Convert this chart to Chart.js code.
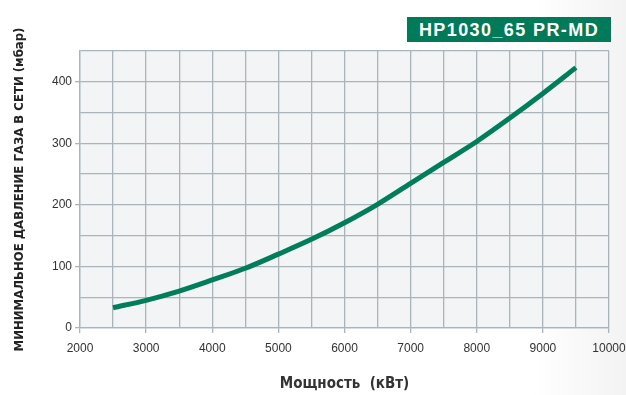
<!DOCTYPE html>
<html>
<head>
<meta charset="utf-8">
<script src="https://cdn.jsdelivr.net/npm/chart.js@4/dist/chart.umd.min.js"></script>
<style>
  html, body { margin: 0; padding: 0; width: 626px; height: 395px; overflow: hidden;
    background: linear-gradient(to right, #ffffff 0%, #ffffff 85%, #f3f3f3 100%); }
  #wrap { position: relative; width: 626px; height: 395px; }
  #badge { position: absolute; left: 407px; top: 17px; width: 204px; height: 25px;
    background: #007a58; color: #fff; font: bold 18px "Liberation Sans", Arial, sans-serif;
    letter-spacing: 1.4px; line-height: 26px; text-align: center; }
  canvas { position: absolute; left: 0; top: 0; }
</style>
</head>
<body>
<div id="wrap">
  <canvas id="c" width="626" height="395"></canvas>
  <div id="badge">HP1030_65 PR-MD</div>
</div>
<script>
const power = [2500, 3000, 3500, 4000, 4500, 5000, 5500, 6000, 6500, 7000, 7500, 8000, 8500, 9000, 9500];
const pressure = [33, 45, 60, 78, 97, 120, 144, 171, 201, 235, 269, 303, 341, 381, 423];
const xTitle = 'Мощность  (кВт)';
const yTitle = 'МИНИМАЛЬНОЕ ДАВЛЕНИЕ ГАЗА В СЕТИ (мбар)';
const xRange = [2000, 10000];
const yRange = [0, 450];

const gridColor = '#a9b4bb';
const lineColor = '#007d5a';
const condensed = '"DejaVu Sans Condensed", "DejaVu Sans", sans-serif';

const plotBg = {
  id: 'plotBg',
  beforeDraw(chart) {
    const {ctx, chartArea: a} = chart;
    ctx.save();
    ctx.fillStyle = '#f2f4f6';
    ctx.fillRect(a.left, a.top, a.right - a.left, a.bottom - a.top);
    ctx.restore();
  }
};

new Chart(document.getElementById('c'), {
  type: 'line',
  data: {
    datasets: [{
      data: power.map((p, i) => ({x: p, y: pressure[i]})),
      borderColor: lineColor,
      borderWidth: 5,
      pointRadius: 0,
      tension: 0.4,
      cubicInterpolationMode: 'monotone',
      fill: false
    }]
  },
  options: {
    responsive: false,
    animation: false,
    layout: { padding: { left: 0, top: 51, right: 0, bottom: 0 } },
    plugins: { legend: { display: false }, tooltip: { enabled: false } },
    scales: {
      x: {
        type: 'linear',
        min: xRange[0], max: xRange[1],
        afterFit: s => { s.height = 67; s.paddingRight = 17; s.paddingLeft = 0; },
        border: { color: gridColor, width: 1.3 },
        grid: {
          color: gridColor, lineWidth: 1.3, tickLength: 5,
          tickColor: c => (c.tick && c.tick.value % 1000 === 0) ? gridColor : 'rgba(0,0,0,0)'
        },
        ticks: {
          stepSize: 500, maxRotation: 0, autoSkip: false, padding: 8,
          color: '#333', font: { family: 'Liberation Sans', size: 12 },
          callback: v => (v % 1000 === 0 ? String(v) : '')
        },
        title: {
          display: true, text: xTitle, color: '#333',
          font: { family: condensed, size: 15, weight: 'bold' },
          padding: { top: 0, bottom: 2 }
        }
      },
      y: {
        type: 'linear',
        min: yRange[0], max: yRange[1],
        afterFit: s => { s.width = 80; },
        border: { color: gridColor, width: 1.3 },
        grid: {
          color: gridColor, lineWidth: 1.3, tickLength: 5,
          tickColor: c => (c.tick && c.tick.value % 100 === 0) ? gridColor : 'rgba(0,0,0,0)'
        },
        ticks: {
          stepSize: 50, autoSkip: false, padding: 3,
          color: '#333', font: { family: 'Liberation Sans', size: 12 },
          callback: v => (v % 100 === 0 ? String(v) : '')
        },
        title: {
          display: true, text: yTitle, color: '#222',
          font: { family: condensed, size: 13, weight: 'bold' },
          padding: { top: 12, bottom: 0 }
        }
      }
    }
  },
  plugins: [plotBg]
});
</script>
</body>
</html>
